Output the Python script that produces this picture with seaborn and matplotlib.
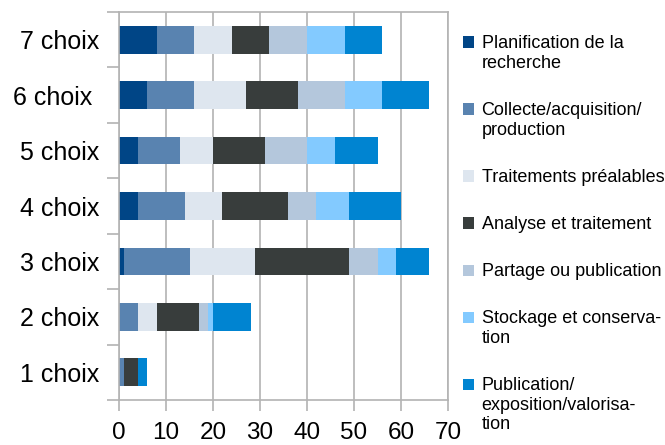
import numpy as np
import pandas as pd
import seaborn as sns
import matplotlib.pyplot as plt
from matplotlib.patches import Rectangle

# nombre de choix -> répartition par étape
categories = ["7 choix", "6 choix ", "5 choix", "4 choix", "3 choix", "2 choix", "1 choix"]
stages = ["Planification de la\nrecherche",
          "Collecte/acquisition/\nproduction",
          "Traitements préalables",
          "Analyse et traitement",
          "Partage ou publication",
          "Stockage et conserva-\ntion",
          "Publication/\nexposition/valorisa-\ntion"]
planification = [8, 6, 4, 4, 1, 0, 0]
collecte = [8, 10, 9, 10, 14, 4, 1]
traitements = [8, 11, 7, 8, 14, 4, 0]
analyse = [8, 11, 11, 14, 20, 9, 3]
partage = [8, 10, 9, 6, 6, 2, 0]
stockage = [8, 8, 6, 7, 4, 1, 0]
publication = [8, 10, 9, 11, 7, 8, 2]
colors = ["#004586", "#5983b0", "#dee6ef", "#383d3c", "#b4c7dc", "#83caff", "#0084d1"]

df = pd.DataFrame({"cat": categories})
for s, v in zip(stages, [planification, collecte, traitements, analyse,
                         partage, stockage, publication]):
    df[s] = v
cum = df[stages].cumsum(axis=1)

sns.set_theme(style="white")
plt.rcParams['font.family'] = ['Liberation Sans', 'DejaVu Sans']

fig = plt.figure(figsize=(6.65, 4.45), dpi=100)
W, H = 665, 445
ax = fig.add_axes([119 / W, 1 - 400 / H, (448 - 119) / W, (400 - 12) / H])

# stacked bars: draw cumulative totals from the longest down
for s, c in list(zip(stages, colors))[::-1]:
    sns.barplot(x=cum[s], y=df["cat"], color=c, width=0.5, errorbar=None,
                linewidth=0, saturation=1, ax=ax)

grey = "#b3b3b3"
ax.set_xlim(0, 70)
ax.set_ylim(6.5, -0.5)
ax.set_xticks(range(0, 71, 10))
ax.xaxis.grid(True, color=grey, linewidth=1.2)
ax.yaxis.grid(False)
ax.set_axisbelow(True)
for sp in ax.spines.values():
    sp.set_color(grey)
    sp.set_linewidth(1.2)
ax.set_yticks(np.arange(-0.5, 7, 1), minor=True)
ax.tick_params(axis="y", which="major", length=0, pad=14, labelsize=18, labelcolor="black")
ax.tick_params(axis="y", which="minor", left=True, length=8.6, width=1.2, color=grey)
ax.tick_params(axis="x", bottom=True, length=8, width=1.2, color=grey, pad=8,
               labelsize=17.5, labelcolor="black")
ax.set_xlabel("")
ax.set_ylabel("")

# legend on the right
y = 42
for s, c in zip(stages, colors):
    n = s.count("\n") + 1
    fig.add_artist(Rectangle((462.5 / W, 1 - (y + 5.5) / H), 11.5 / W, 11 / H,
                             transform=fig.transFigure, color=c, lw=0))
    fig.text(481.5 / W, 1 - (y - 7) / H, s, fontsize=13, va="top",
             ha="left", linespacing=1.2, color="black")
    y += 47 + 20 * (n - 1)

fig.savefig("out.png", dpi=100)
